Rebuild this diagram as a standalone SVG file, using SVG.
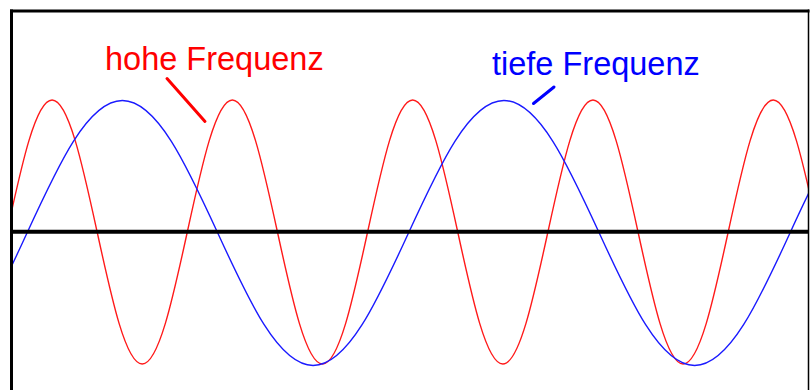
<svg xmlns="http://www.w3.org/2000/svg" width="810" height="390" viewBox="0 0 810 390">
  <style>
    .lbl { font-family: "Liberation Sans", Arial, sans-serif; font-size: 32.5px; }
    .wave { fill: none; stroke-width: 1.4; stroke-linejoin: round; }
    .frame { stroke: #000; fill: none; }
  </style>
  <defs>
    <clipPath id="inner">
      <rect x="12.5" y="12" width="795.5" height="378"/>
    </clipPath>
    <path id="sine" vector-effect="non-scaling-stroke" d="M-8 0 C-7.67386 0.51229 -7.36191 1 -7 1 C-6.63809 1 -6.32614 0.51229 -6 0 C-5.67386 -0.51229 -5.36191 -1 -5 -1 C-4.63809 -1 -4.32614 -0.51229 -4 0 C-3.67386 0.51229 -3.36191 1 -3 1 C-2.63809 1 -2.32614 0.51229 -2 0 C-1.67386 -0.51229 -1.36191 -1 -1 -1 C-0.63809 -1 -0.32614 -0.51229 0 0 C0.32614 0.51229 0.63809 1 1 1 C1.36191 1 1.67386 0.51229 2 0 C2.32614 -0.51229 2.63809 -1 3 -1 C3.36191 -1 3.67386 -0.51229 4 0 C4.32614 0.51229 4.63809 1 5 1 C5.36191 1 5.67386 0.51229 6 0 C6.32614 -0.51229 6.63809 -1 7 -1 C7.36191 -1 7.67386 -0.51229 8 0 C8.32614 0.51229 8.63809 1 9 1 C9.36191 1 9.67386 0.51229 10 0 C10.32614 -0.51229 10.63809 -1 11 -1 C11.36191 -1 11.67386 -0.51229 12 0 C12.32614 0.51229 12.63809 1 13 1 C13.36191 1 13.67386 0.51229 14 0 C14.32614 -0.51229 14.63809 -1 15 -1 C15.36191 -1 15.67386 -0.51229 16 0 C16.32614 0.51229 16.63809 1 17 1 C17.36191 1 17.67386 0.51229 18 0 C18.32614 -0.51229 18.63809 -1 19 -1 C19.36191 -1 19.67386 -0.51229 20 0"/>
  </defs>
  <rect width="810" height="390" fill="#fff"/>

  <g id="waves" clip-path="url(#inner)">
    <g id="wave-high">
      <use href="#sine" class="wave" stroke="#ff1a1a" transform="translate(7 232) scale(45.075 -132)"/>
    </g>
    <g id="wave-low">
      <use href="#sine" class="wave" stroke="#1a1aff" transform="translate(27 233) scale(95.375 -132.5)"/>
    </g>
  </g>

  <g id="axis">
    <line x1="12" y1="231.75" x2="808" y2="231.75" stroke="#000" stroke-width="4"/>
  </g>

  <g id="frame">
    <line class="frame" x1="11.5" y1="9.5" x2="11.5" y2="390" stroke-width="3"/>
    <line class="frame" x1="10" y1="11" x2="809.5" y2="11" stroke-width="3"/>
    <line class="frame" x1="808.5" y1="9.5" x2="808.5" y2="390" stroke-width="1.5"/>
  </g>

  <g id="connectors">
    <line x1="167" y1="78.5" x2="205" y2="121.5" stroke="#ff0000" stroke-width="3" stroke-linecap="round"/>
    <line x1="533.5" y1="103.5" x2="554" y2="87" stroke="#0000ff" stroke-width="3" stroke-linecap="round"/>
  </g>

  <g id="label-high">
    <text class="lbl" x="105" y="70" fill="#ff0000">hohe Frequenz</text>
  </g>
  <g id="label-low">
    <text class="lbl" x="492" y="75" fill="#0000ff">tiefe Frequenz</text>
  </g>
</svg>
